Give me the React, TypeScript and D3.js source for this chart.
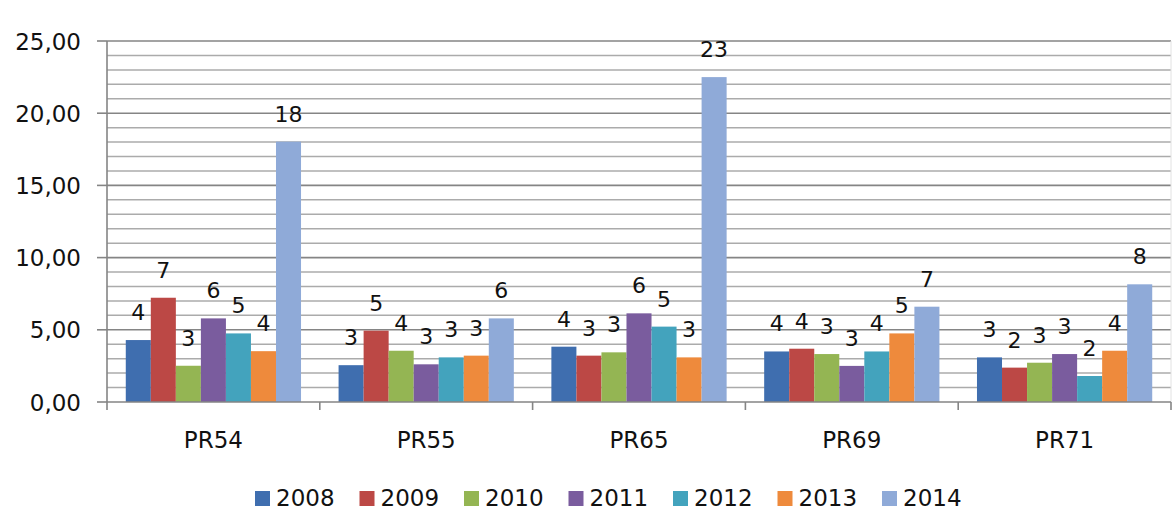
import React from "react";
import * as d3 from "d3";

// Categories and series
const categories = ["PR54", "PR55", "PR65", "PR69", "PR71"];
const years = ["2008", "2009", "2010", "2011", "2012", "2013", "2014"];

const v2008 = [4.29, 2.55, 3.83, 3.5, 3.09];
const v2009 = [7.22, 4.94, 3.21, 3.69, 2.38];
const v2010 = [2.51, 3.55, 3.44, 3.32, 2.72];
const v2011 = [5.79, 2.61, 6.14, 2.5, 3.32];
const v2012 = [4.75, 3.09, 5.22, 3.5, 1.8];
const v2013 = [3.52, 3.21, 3.09, 4.75, 3.55];
const v2014 = [18.03, 5.79, 22.5, 6.6, 8.15];

const yTicks = [0, 5, 10, 15, 20, 25];

const seriesValues = [v2008, v2009, v2010, v2011, v2012, v2013, v2014];
const colors = ["#3F6EAF", "#BC4845", "#94B553", "#7A5C9E", "#43A3BD", "#EE8A3C", "#8FAAD8"];

const W = 1175;
const H = 514;
const FONT = "'DejaVu Sans', sans-serif";

export default function App() {
  const left = 107;
  const right = 1171;
  const top = 41;
  const bottom = 402;

  const y = d3.scaleLinear().domain([0, 25]).range([bottom, top]);
  const x0 = d3.scaleBand<string>().domain(categories).range([left, right]).paddingInner(0).paddingOuter(0);
  const x1 = d3
    .scaleBand<string>()
    .domain(years)
    .range([0, x0.bandwidth()])
    .paddingInner(0)
    .paddingOuter(0.75);

  const minorTicks = d3.range(1, 26).filter((t) => t % 5 !== 0);
  const fmt = (v: number) => d3.format(".2f")(v).replace(".", ",");

  return (
    <svg
      width={W}
      height={H}
      style={{ position: "absolute", left: 0, top: 0, background: "#fff" }}
      fontFamily={FONT}
    >
      <rect x={0} y={0} width={W} height={H} fill="#fff" />

      {/* minor gridlines */}
      {minorTicks.map((t) => (
        <line key={"m" + t} x1={left} x2={right} y1={y(t)} y2={y(t)} stroke="#ababab" strokeWidth={1.5} />
      ))}
      {/* major gridlines */}
      {yTicks.slice(1).map((t) => (
        <line key={"g" + t} x1={left} x2={right} y1={y(t)} y2={y(t)} stroke="#858585" strokeWidth={1.6} />
      ))}
      <line x1={right} x2={right} y1={top} y2={bottom} stroke="#e2e2e2" strokeWidth={1} />

      {/* bars */}
      {categories.map((c, ci) => (
        <g key={c} transform={`translate(${x0(c)},0)`}>
          {years.map((yr, si) => {
            const v = seriesValues[si][ci];
            return (
              <rect
                key={yr}
                x={x1(yr)}
                y={y(v)}
                width={x1.bandwidth()}
                height={y(0) - y(v)}
                fill={colors[si]}
              />
            );
          })}
        </g>
      ))}

      {/* value labels */}
      {categories.map((c, ci) => (
        <g key={"l" + c} transform={`translate(${x0(c)},0)`}>
          {years.map((yr, si) => {
            const v = seriesValues[si][ci];
            return (
              <text
                key={yr}
                x={(x1(yr) as number) + x1.bandwidth() / 2}
                y={y(v) - 20}
                textAnchor="middle"
                fontSize={22}
                fill="#111"
              >
                {Math.round(v)}
              </text>
            );
          })}
        </g>
      ))}

      {/* y axis */}
      <line x1={left} x2={left} y1={top} y2={bottom} stroke="#858585" strokeWidth={1.6} />
      {yTicks.map((t) => (
        <g key={"y" + t}>
          <line x1={left - 10} x2={left} y1={y(t)} y2={y(t)} stroke="#858585" strokeWidth={1.6} />
          <text x={81} y={y(t) + 8.5} textAnchor="end" fontSize={23} fill="#111">
            {fmt(t)}
          </text>
        </g>
      ))}

      {/* x axis */}
      <line x1={left} x2={right} y1={bottom} y2={bottom} stroke="#858585" strokeWidth={1.6} />
      {categories.map((c) => (
        <line
          key={"t" + c}
          x1={x0(c) as number}
          x2={x0(c) as number}
          y1={bottom}
          y2={bottom + 8}
          stroke="#858585"
          strokeWidth={1.6}
        />
      ))}
      <line x1={right} x2={right} y1={bottom} y2={bottom + 8} stroke="#858585" strokeWidth={1.6} />
      {categories.map((c) => (
        <text
          key={"c" + c}
          x={(x0(c) as number) + x0.bandwidth() / 2}
          y={448}
          textAnchor="middle"
          fontSize={23}
          fill="#111"
        >
          {c}
        </text>
      ))}

      {/* legend */}
      {years.map((yr, i) => {
        const lx = 255 + i * 104.5;
        return (
          <g key={"lg" + yr}>
            <rect x={lx} y={491} width={15} height={15} fill={colors[i]} />
            <text x={lx + 21} y={506} fontSize={23} fill="#111">
              {yr}
            </text>
          </g>
        );
      })}
    </svg>
  );
}
